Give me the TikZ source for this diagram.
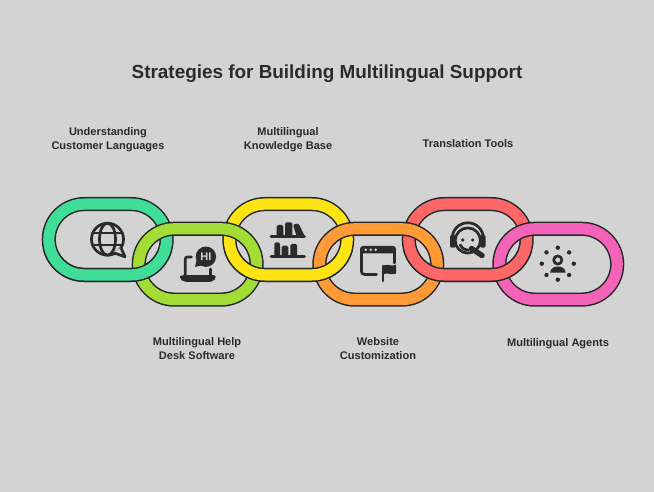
\documentclass[tikz,border=0pt]{standalone}
\usepackage{xcolor}
\usepackage{fontspec}
\setmainfont{Liberation Sans}
\usepackage{tikz}
\definecolor{bg}{HTML}{D3D3D3}
\definecolor{ink}{HTML}{2B2B2B}
\definecolor{edge}{HTML}{25282A}
\definecolor{linkgreen}{HTML}{3FDD95}
\definecolor{linklime}{HTML}{A4DC36}
\definecolor{linkyellow}{HTML}{FFE414}
\definecolor{linkorange}{HTML}{FF9A36}
\definecolor{linkred}{HTML}{FF6666}
\definecolor{linkpink}{HTML}{F563B9}
\tikzset{
  link/.style={draw=edge, line width=1.5pt, double distance=11.2pt, rounded corners=35.4pt},
  title/.style={text=ink, font=\bfseries\fontsize{18.9}{22}\selectfont, inner sep=0pt},
  lab/.style={text=ink, font=\bfseries\fontsize{11.05}{14}\selectfont, align=center, inner sep=0pt},
  icon/.style={draw=ink, line width=2.7pt, line cap=round, line join=round},
}
\begin{document}
\begin{tikzpicture}[x=1pt,y=-1pt]
  \fill[bg] (0,0) rectangle (654,492);
  % upper links first, lower links over them
  \foreach \xpos/\col in {41.7/linkgreen,222.3/linkyellow,401.7/linkred}
    \draw[link, double=\col] (\xpos+7.1,204.1) rectangle ++(117.8,70.8);
  \foreach \xpos/\col in {131.7/linklime,312.3/linkorange,492.3/linkpink}
    \draw[link, double=\col] (\xpos+7.1,228.8) rectangle ++(117.8,70.8);
  % bottom crossings go the other way
  \begin{scope}
    \clip (0,252) rectangle (654,492);
    \foreach \xpos/\col in {41.7/linkgreen,222.3/linkyellow,401.7/linkred}
      \draw[link, double=\col] (\xpos+7.1,204.1) rectangle ++(117.8,70.8);
  \end{scope}

  \node[title] (heading) at (327,74) {Strategies for Building Multilingual Support};
  \node[lab] (understanding) at (108,139.5) {Understanding\\Customer Languages};
  \node[lab] (knowledge) at (288,139.5) {Multilingual\\Knowledge Base};
  \node[lab] (translation) at (468,144) {Translation Tools};
  \node[lab] (helpdesk) at (197,348.7) {Multilingual Help\\Desk Software};
  \node[lab] (website) at (378,348.7) {Website\\Customization};
  \node[lab] (agents) at (558,343.5) {Multilingual Agents};

  % globe
  \draw[icon] (107.5,239.2) circle (16);
  \draw[icon] (107.5,239.2) ellipse (8 and 16);
  \draw[icon] (92.5,233) -- (122.5,233) (92.5,245) -- (122.5,245);
  \fill[bg] (113.5,252.5) -- (125,256.8) -- (121,247.5) -- cycle;
  \draw[icon] (114.5,253) -- (125,256.8) -- (121.3,248.5);

  % laptop and bubble
  \fill[ink, rounded corners=2.5pt] (180,275) -- (215.7,275) -- (215.7,278) [rounded corners=3.5pt] -- (213,281.9) -- (183,281.9) -- (180,278) -- cycle;
  \draw[icon] (191.5,257) -- (187,257) [rounded corners=2pt] -- (185.3,257) -- (185.3,275.5);
  \draw[icon] (210.3,269) -- (210.3,275.5);
  \fill[ink] (205.9,256.7) circle (10.2);
  \fill[ink] (197,259) -- (195,266.8) -- (204,265) -- cycle;
  \node[text=bg, font=\bfseries\fontsize{11}{11}\selectfont, inner sep=0pt] (hi) at (205.9,256.7) {HI};

  % shelves
  \draw[icon] (271,236.7) -- (304.5,236.7) (271,256.3) -- (304.5,256.3);
  \fill[ink, rounded corners=1.5pt] (276.7,236.7) -- (276.7,225) -- (283.3,225) -- (283.3,236.7) -- cycle;
  \fill[ink, rounded corners=1.5pt] (285,236.7) -- (285,222.3) -- (292.3,222.3) -- (292.3,236.7) -- cycle;
  \fill[ink, rounded corners=1.5pt] (293,224.6) -- (298.5,223.3) -- (305,236.7) -- (296.7,236.7) -- cycle;
  \fill[ink, rounded corners=1.5pt] (274.3,256.3) -- (274.3,242.3) -- (280,242.3) -- (280,256.3) -- cycle;
  \fill[ink, rounded corners=1.5pt] (281.7,256.3) -- (281.7,245.7) -- (288.3,245.7) -- (288.3,256.3) -- cycle;
  \fill[ink, rounded corners=1.5pt] (290.3,256.3) -- (290.3,244) -- (297,244) -- (297,256.3) -- cycle;

  % browser window and flag
  \fill[ink, rounded corners=3pt] (360,253.5) -- (360,246) -- (396,246) -- (396,253.5) -- cycle;
  \draw[icon, rounded corners=3pt] (376.5,274.4) -- (361.4,274.4) -- (361.4,250);
  \draw[icon] (394.6,250) -- (394.6,263);
  \foreach \xdot in {365.7,370.7,375.7}
    \fill[bg] (\xdot,249.7) circle (1.4);
  \draw[icon] (383,266) -- (383,281);
  \fill[ink] (383.5,265.5) .. controls (388,263.5) and (391,267) .. (396,264.8) -- (396,273.6) .. controls (391,275.6) and (388,272) .. (383.5,274.2) -- cycle;

  % headset
  \draw[icon] (467.8,240.5) circle (12.6);
  \draw[icon] (452.3,238) arc[start angle=180, end angle=360, x radius=15.5, y radius=15.2];
  \fill[ink, rounded corners=2pt] (450,235) rectangle (455.7,247.7);
  \fill[ink, rounded corners=2pt] (480,235) rectangle (485.7,247.7);
  \fill[ink] (462.7,240) circle (1.8) (472.6,240) circle (1.8);
  \draw[icon] (460.3,245) .. controls (462,248.5) and (465,250) .. (468.5,250);
  \draw[icon, line width=5.4pt] (471.5,248.5) -- (482,255.5);

  % agent among dots
  \foreach \ang in {0,45,...,315}
    \fill[ink] ({557.8+16*cos(\ang)},{263.7+16*sin(\ang)}) circle (2.2);
  \draw[icon] (557.8,260) circle (4.1);
  \fill[ink] (550,272.5) .. controls (551,267.5) and (555,266.5) .. (557.8,266.5) .. controls (561,266.5) and (565,267.5) .. (565.7,272.5) -- cycle;
\end{tikzpicture}
\end{document}
